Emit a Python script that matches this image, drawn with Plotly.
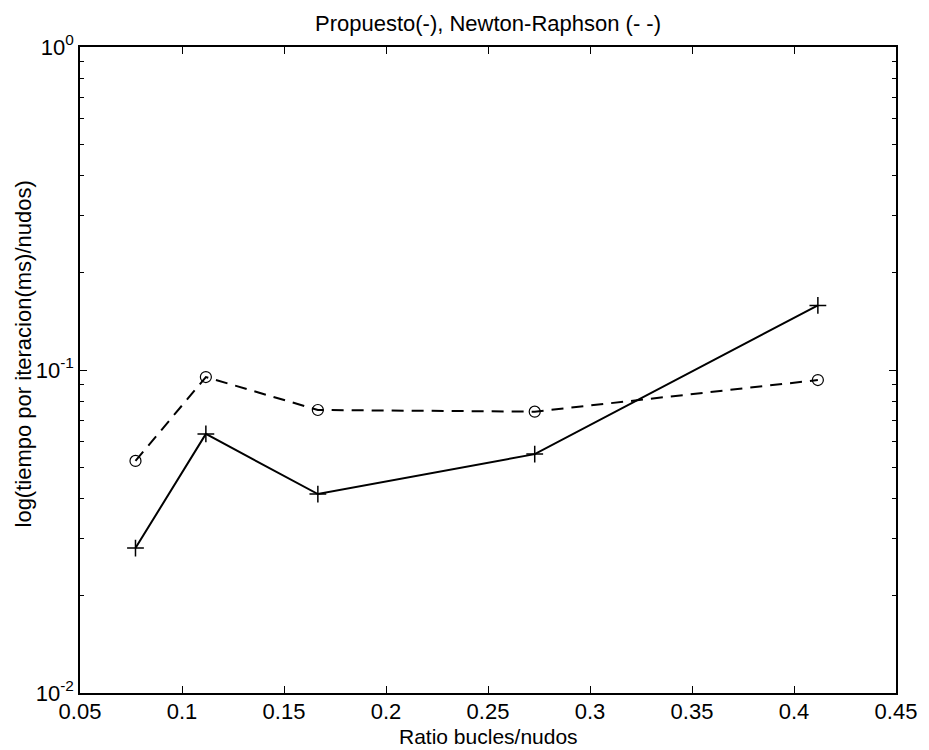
import plotly.graph_objects as go

# Ratio of loops to nodes for each test network
ratio = [0.0772, 0.1117, 0.1666, 0.2729, 0.4117]

# Time per iteration per node (ms), proposed method
propuesto = [0.0281, 0.0634, 0.0413, 0.0549, 0.1585]

# Time per iteration per node (ms), Newton-Raphson
newton = [0.0523, 0.0951, 0.0752, 0.0743, 0.0931]

x_ticks = [0.05, 0.1, 0.15, 0.2, 0.25, 0.3, 0.35, 0.4, 0.45]
x_ticktext = ["0.05", "0.1", "0.15", "0.2", "0.25", "0.3", "0.35", "0.4", "0.45"]
y_ticks = [0.01, 0.1, 1]
y_ticktext = ["10<sup>-2</sup>", "10<sup>-1</sup>", "10<sup>0</sup>"]

FONT = "Liberation Sans, Arial, Helvetica, sans-serif"

fig = go.Figure()

fig.add_trace(go.Scatter(
    x=ratio, y=propuesto, mode="lines+markers", name="Propuesto",
    line=dict(color="black", width=2),
    marker=dict(symbol="cross-thin", size=12, color="black",
                line=dict(color="black", width=1.5)),
))

fig.add_trace(go.Scatter(
    x=ratio, y=newton, mode="lines+markers", name="Newton-Raphson",
    line=dict(color="black", width=2, dash="12px,8px"),
    marker=dict(symbol="circle-open", size=11, color="black",
                line=dict(color="black", width=1.2)),
))

# minor ticks between decades of the log axis
minor_y = [m * 10 ** e for e in (-2, -1) for m in range(2, 10)]

fig.update_layout(
    width=929, height=750,
    margin=dict(l=80, r=26, t=47, b=57),
    paper_bgcolor="white", plot_bgcolor="white",
    showlegend=False,
    font=dict(family=FONT, size=21, color="black"),
    title=dict(text="Propuesto(-), Newton-Raphson (- -)",
               x=0.5, xref="paper", xanchor="center",
               y=1 - 23 / 750, yanchor="middle",
               font=dict(family=FONT, size=22, color="black")),
    xaxis=dict(
        range=[0.05, 0.45], tickmode="array", tickvals=x_ticks,
        ticktext=x_ticktext, ticks="inside", ticklen=7, tickwidth=1,
        tickcolor="black", showline=True, linecolor="black", linewidth=1.5,
        mirror="ticks", showgrid=False, zeroline=False,
        tickfont=dict(size=22), ticklabelstandoff=-2,
    ),
    yaxis=dict(
        type="log", range=[-2, 0], tickmode="array", tickvals=y_ticks,
        ticktext=y_ticktext, ticks="inside", ticklen=7, tickwidth=1,
        tickcolor="black", showline=True, linecolor="black", linewidth=1.5,
        mirror="ticks", showgrid=False, zeroline=False,
        tickfont=dict(size=22), ticklabelstandoff=0,
        minor=dict(tickmode="array", tickvals=minor_y, ticks="inside",
                   ticklen=4, tickcolor="black", showgrid=False),
    ),
    annotations=[
        dict(text="Ratio bucles/nudos", xref="paper", yref="paper",
             x=0.5, y=-43 / 646, xanchor="center", yanchor="middle",
             showarrow=False, font=dict(size=21)),
        dict(text="log(tiempo por iteracion(ms)/nudos)", xref="paper",
             yref="paper", x=-57 / 823, y=(693 - 354) / 646,
             xanchor="center", yanchor="middle", textangle=-90,
             showarrow=False, font=dict(size=22)),
    ],
)

fig.write_html("out.html")
